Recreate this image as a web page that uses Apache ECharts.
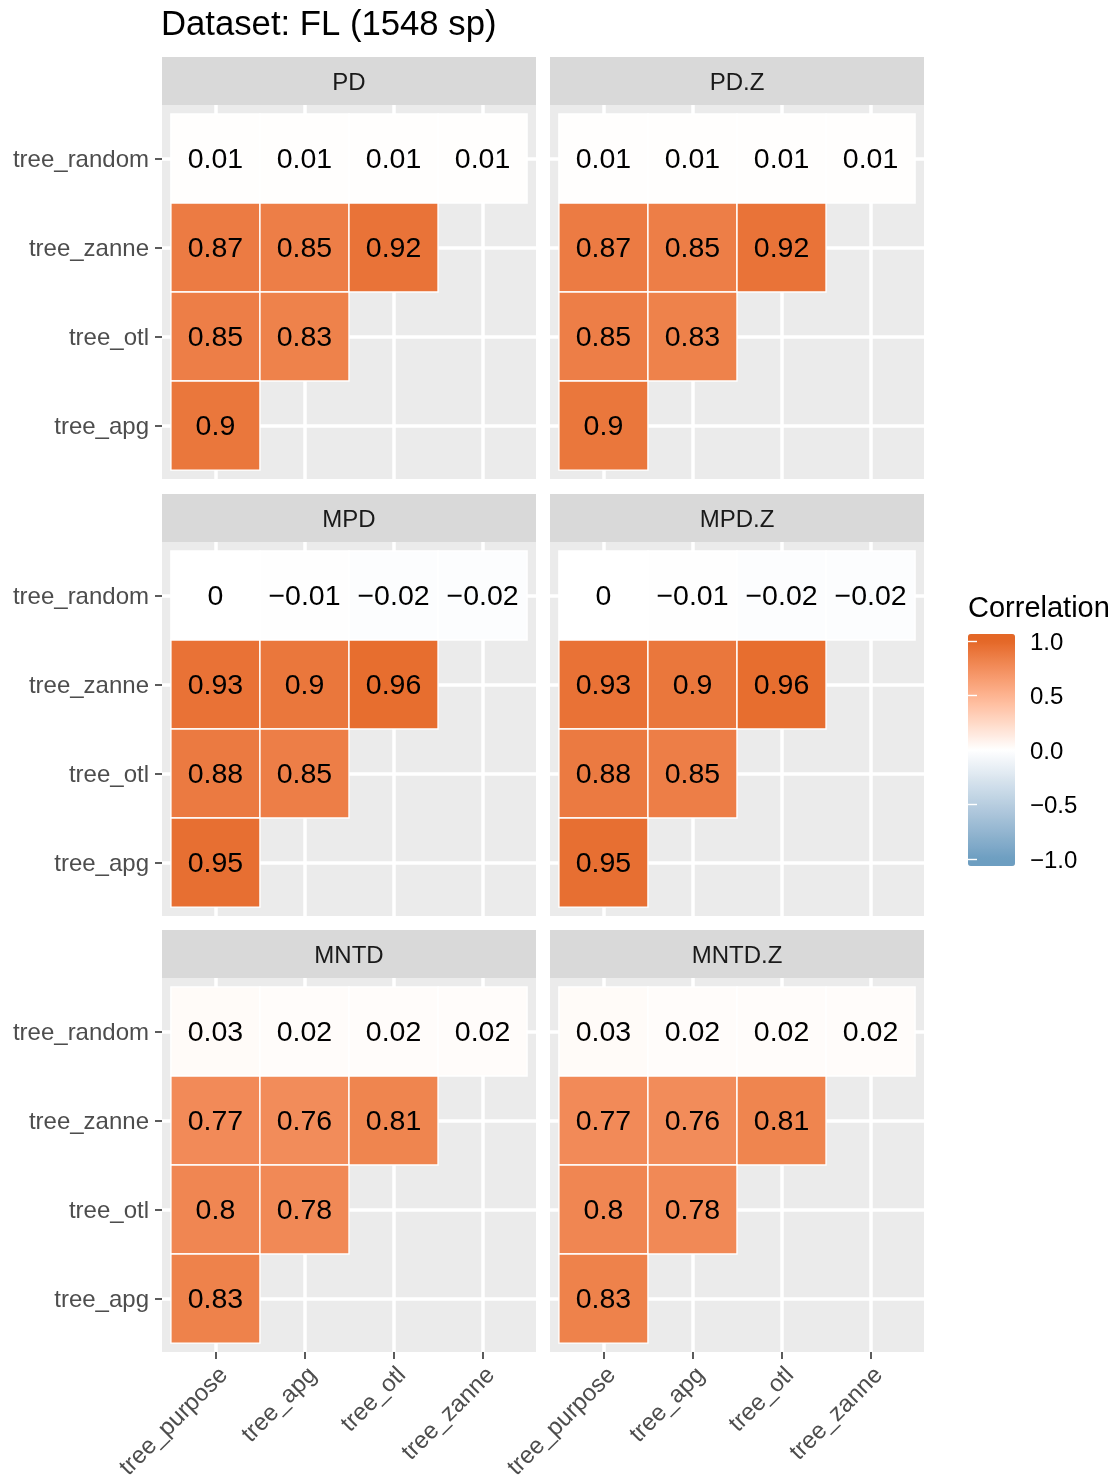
<!DOCTYPE html>
<html>
<head>
<meta charset="utf-8">
<script src="https://cdn.jsdelivr.net/npm/echarts@6/dist/echarts.min.js"></script>
<style>
  html, body { margin: 0; padding: 0; background: #ffffff; }
  #chart { width: 1117px; height: 1477px; }
</style>
</head>
<body>
<div id="chart"></div>
<script>
// ---- data ---------------------------------------------------------------
const titleText = 'Dataset: FL (1548 sp)';
const xCategories = ['tree_purpose', 'tree_apg', 'tree_otl', 'tree_zanne'];
// y categories from bottom to top
const yCategories = ['tree_apg', 'tree_otl', 'tree_zanne', 'tree_random'];
const facetNames = ['PD', 'PD.Z', 'MPD', 'MPD.Z', 'MNTD', 'MNTD.Z'];

// each matrix lists rows top to bottom: tree_random, tree_zanne, tree_otl, tree_apg
const corPD    = [[0.01, 0.01, 0.01, 0.01], [0.87, 0.85, 0.92], [0.85, 0.83], [0.9]];
const corPDZ   = [[0.01, 0.01, 0.01, 0.01], [0.87, 0.85, 0.92], [0.85, 0.83], [0.9]];
const corMPD   = [[0, -0.01, -0.02, -0.02], [0.93, 0.9, 0.96], [0.88, 0.85], [0.95]];
const corMPDZ  = [[0, -0.01, -0.02, -0.02], [0.93, 0.9, 0.96], [0.88, 0.85], [0.95]];
const corMNTD  = [[0.03, 0.02, 0.02, 0.02], [0.77, 0.76, 0.81], [0.8, 0.78], [0.83]];
const corMNTDZ = [[0.03, 0.02, 0.02, 0.02], [0.77, 0.76, 0.81], [0.8, 0.78], [0.83]];
const facetMatrices = [corPD, corPDZ, corMPD, corMPDZ, corMNTD, corMNTDZ];

const legendTitle = 'Correlation';
const legendBreaks = [-1, -0.5, 0, 0.5, 1];

// ---- colour scale: diverging low / white / high, blended in CIELAB ----------
const lowColor = '#6D9EC1', midColor = '#FFFFFF', highColor = '#E46726';

function hexToRgb(h) { return [1, 3, 5].map(i => parseInt(h.slice(i, i + 2), 16)); }
function rgbToLab(rgb) {
  const lin = v => { v /= 255; return v <= 0.04045 ? v / 12.92 : Math.pow((v + 0.055) / 1.055, 2.4); };
  const R = lin(rgb[0]), G = lin(rgb[1]), B = lin(rgb[2]);
  const X = (R * 0.4124564 + G * 0.3575761 + B * 0.1804375) / 0.95047;
  const Y = (R * 0.2126729 + G * 0.7151522 + B * 0.0721750);
  const Z = (R * 0.0193339 + G * 0.1191920 + B * 0.9503041) / 1.08883;
  const f = t => t > 0.008856 ? Math.cbrt(t) : (7.787 * t + 16 / 116);
  return [116 * f(Y) - 16, 500 * (f(X) - f(Y)), 200 * (f(Y) - f(Z))];
}
function labToHex(lab) {
  const fy = (lab[0] + 16) / 116, fx = fy + lab[1] / 500, fz = fy - lab[2] / 200;
  const finv = t => (t * t * t > 0.008856) ? t * t * t : (t - 16 / 116) / 7.787;
  const X = finv(fx) * 0.95047, Y = finv(fy), Z = finv(fz) * 1.08883;
  const R =  3.2404542 * X - 1.5371385 * Y - 0.4985314 * Z;
  const G = -0.9692660 * X + 1.8760108 * Y + 0.0415560 * Z;
  const B =  0.0556434 * X - 0.2040259 * Y + 1.0572252 * Z;
  const gam = v => {
    v = v <= 0.0031308 ? 12.92 * v : 1.055 * Math.pow(v, 1 / 2.4) - 0.055;
    return Math.round(Math.min(1, Math.max(0, v)) * 255);
  };
  return '#' + [R, G, B].map(v => gam(v).toString(16).padStart(2, '0')).join('');
}
const labLow = rgbToLab(hexToRgb(lowColor));
const labMid = rgbToLab(hexToRgb(midColor));
const labHigh = rgbToLab(hexToRgb(highColor));
function divergingColor(v) {
  v = Math.max(-1, Math.min(1, v));
  const from = v < 0 ? labLow : labMid;
  const to = v < 0 ? labMid : labHigh;
  const t = v < 0 ? v + 1 : v;
  return labToHex(from.map((c, i) => c + (to[i] - c) * t));
}
// the colour bar runs a little past the limits, as the binned guide does
const barLimit = 1.064;
const colorStops = [];
for (let i = 0; i <= 60; i++) colorStops.push(divergingColor(-barLimit + (2 * barLimit) * i / 60));

// ---- layout -------------------------------------------------------------
const FONT = '"Liberation Sans", Arial, Helvetica, sans-serif';
const panelLeft = [162, 550];
const panelTop = [105, 542, 978];
const panelSize = 374;
const stripH = 48;
const AXIS_TEXT = 24;
const CELL_TEXT = 28.5;
const TEXT_DROP = 2;          // nudges centred text a little lower, onto R's baseline
const tickValues = [1, 2, 3, 4];

function labelText(v) {
  return v === 0 ? '0' : String(v).replace('-', '\u2212');
}
// rich-text style that drops an axis label by TEXT_DROP pixels
function droppedRich(color) {
  return { t: { fontSize: AXIS_TEXT, color: color, fontFamily: FONT,
                padding: [2 * TEXT_DROP, 0, 0, 0] } };
}

const grids = [], xAxes = [], yAxes = [], series = [], graphics = [];

facetNames.forEach((name, i) => {
  const col = i % 2, row = Math.floor(i / 2);
  const left = panelLeft[col], top = panelTop[row];
  grids.push({ left: left, top: top, width: panelSize, height: panelSize,
               outerBoundsMode: 'none', containLabel: false,
               show: true, backgroundColor: '#EBEBEB', borderWidth: 0 });
  const isBottom = row === 2, isLeft = col === 0;
  xAxes.push({
    type: 'value', gridIndex: i, min: 0.4, max: 4.6,
    axisLine: { show: false },
    axisTick: { show: isBottom, customValues: tickValues, length: 7,
                lineStyle: { color: '#333333', width: 1.6 } },
    axisLabel: { show: isBottom, customValues: tickValues, rotate: 45, margin: 11,
                 align: 'right', verticalAlign: 'top',
                 formatter: v => xCategories[Math.round(v) - 1],
                 fontSize: AXIS_TEXT, color: '#4D4D4D', fontFamily: FONT },
    splitLine: { show: true, lineStyle: { color: '#FFFFFF', width: 3.5 } }
  });
  yAxes.push({
    type: 'value', gridIndex: i, min: 0.4, max: 4.6,
    axisLine: { show: false },
    axisTick: { show: isLeft, customValues: tickValues, length: 7,
                lineStyle: { color: '#333333', width: 1.6 } },
    axisLabel: { show: isLeft, customValues: tickValues, margin: 13,
                 formatter: v => '{t|' + yCategories[Math.round(v) - 1] + '}',
                 rich: droppedRich('#4D4D4D'),
                 fontSize: AXIS_TEXT, color: '#4D4D4D', fontFamily: FONT },
    splitLine: { show: true, lineStyle: { color: '#FFFFFF', width: 3.5 } }
  });

  const data = [];
  facetMatrices[i].forEach((rowVals, r) => {
    rowVals.forEach((v, c) => data.push([c + 1, 4 - r, v]));
  });
  series.push({
    type: 'custom', name: name, xAxisIndex: i, yAxisIndex: i,
    encode: { x: 0, y: 1 },
    data: data,
    renderItem: (params, api) => {
      const x = api.value(0), y = api.value(1), v = api.value(2);
      const a = api.coord([x - 0.5, y + 0.5]);
      const b = api.coord([x + 0.5, y - 0.5]);
      const c = api.coord([x, y]);
      return {
        type: 'group',
        children: [
          { type: 'rect',
            shape: { x: a[0], y: a[1], width: b[0] - a[0], height: b[1] - a[1] },
            style: { fill: api.visual('color'), stroke: '#FFFFFF', lineWidth: 1.4 } },
          { type: 'text', x: c[0], y: c[1] + TEXT_DROP,
            style: { text: labelText(v), fill: '#000000', fontSize: CELL_TEXT, fontFamily: FONT,
                     align: 'center', verticalAlign: 'middle',
                     textAlign: 'center', textVerticalAlign: 'middle' } }
        ]
      };
    }
  });

  // facet strip
  graphics.push({ type: 'rect', silent: true,
                  shape: { x: left, y: top - stripH, width: panelSize, height: stripH },
                  style: { fill: '#D9D9D9' } });
  graphics.push({ type: 'text', silent: true, x: left + panelSize / 2, y: top - stripH / 2 + TEXT_DROP,
                  style: { text: name, fill: '#1A1A1A', fontSize: AXIS_TEXT, fontFamily: FONT,
                           align: 'center', verticalAlign: 'middle',
                           textAlign: 'center', textVerticalAlign: 'middle' } });
});

// colour bar labels and ticks share the bar's own value axis
const legendGrid = grids.length;
grids.push({ left: 968, top: 634, width: 47, height: 232, show: false,
             outerBoundsMode: 'none', containLabel: false });
xAxes.push({ type: 'value', gridIndex: legendGrid, show: false, min: 0, max: 1 });
const legendAxisCommon = {
  type: 'value', gridIndex: legendGrid, min: -barLimit, max: barLimit, z: 10,
  axisLine: { show: false },
  axisTick: { show: true, inside: true, length: 9, customValues: legendBreaks,
              lineStyle: { color: '#FFFFFF', width: 1.4 } },
  splitLine: { show: false }
};
yAxes.push(Object.assign({}, legendAxisCommon, {
  position: 'right',
  axisLabel: { show: true, customValues: legendBreaks, margin: 15,
               formatter: v => '{t|' + v.toFixed(1).replace('-', '\u2212') + '}',
               rich: droppedRich('#000000'),
               fontSize: AXIS_TEXT, color: '#000000', fontFamily: FONT }
}));
yAxes.push(Object.assign({}, legendAxisCommon, {
  position: 'left', axisLabel: { show: false }
}));

graphics.push({ type: 'text', silent: true, x: 968, y: 607 + TEXT_DROP,
                style: { text: legendTitle, fill: '#000000', fontSize: 29, fontFamily: FONT,
                         align: 'left', verticalAlign: 'middle',
                         textAlign: 'left', textVerticalAlign: 'middle' } });

const chart = echarts.init(document.getElementById('chart'), null, { renderer: 'canvas' });
chart.setOption({
  animation: false,
  backgroundColor: '#FFFFFF',
  textStyle: { fontFamily: FONT },
  title: {
    text: titleText, left: 161, top: 8, padding: 0,
    textStyle: { fontSize: 34.7, fontWeight: 'normal', color: '#000000', fontFamily: FONT }
  },
  grid: grids,
  xAxis: xAxes,
  yAxis: yAxes,
  visualMap: {
    type: 'continuous', show: true, calculable: false, hoverLink: false,
    min: -barLimit, max: barLimit, dimension: 2,
    seriesIndex: facetNames.map((_, i) => i),
    inRange: { color: colorStops },
    orient: 'vertical', left: 968, top: 634, padding: 0,
    itemWidth: 47, itemHeight: 232, text: null, z: 4
  },
  graphic: graphics,
  series: series
});
</script>
</body>
</html>
